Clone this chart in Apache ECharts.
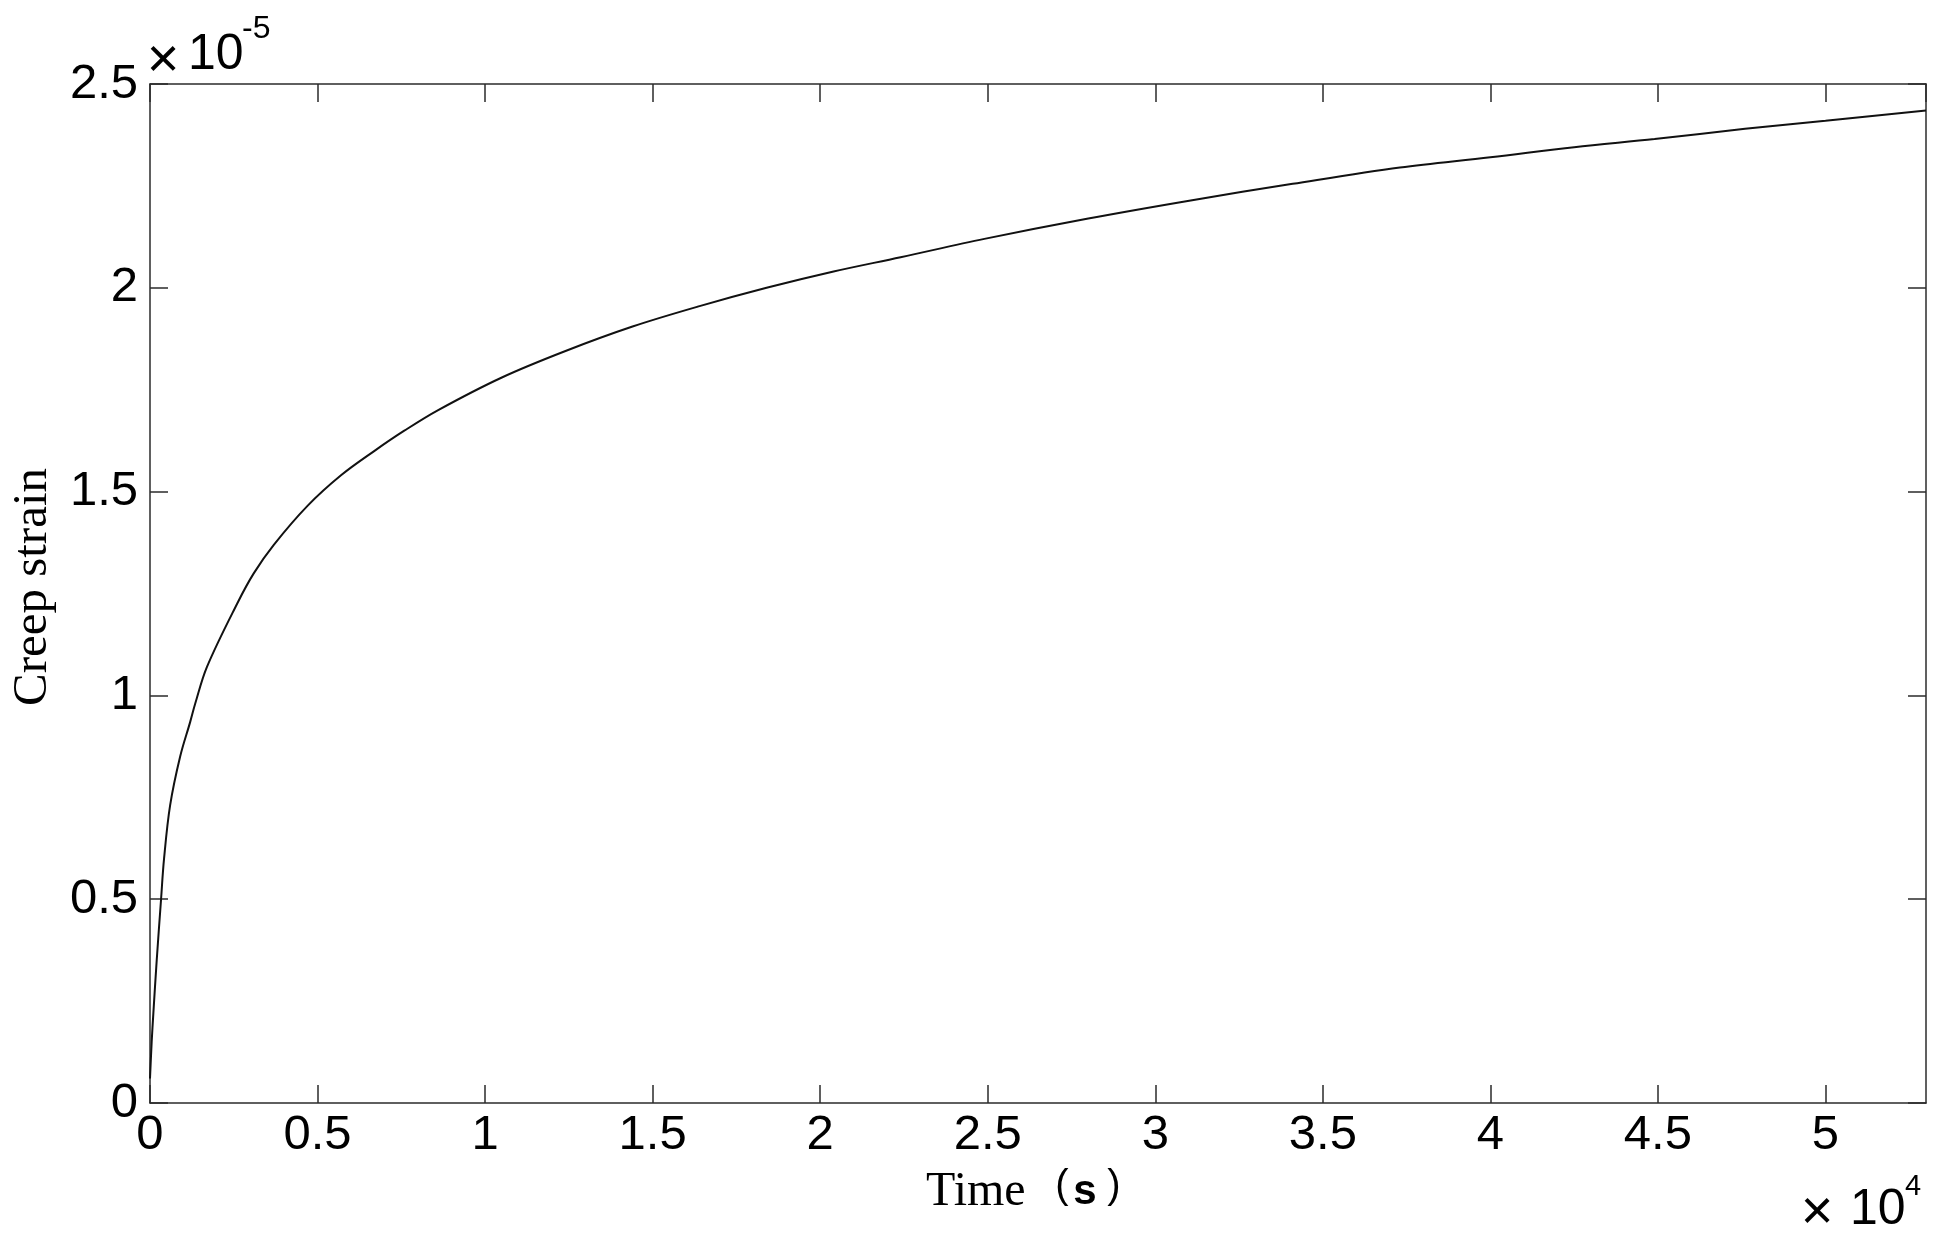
<!DOCTYPE html>
<html>
<head>
<meta charset="utf-8">
<script src="https://cdn.jsdelivr.net/npm/echarts@6/dist/echarts.min.js"></script>
<style>
html,body{margin:0;padding:0;background:#fff;}
#chart{width:1950px;height:1244px;}
</style>
</head>
<body>
<div id="chart"></div>
<script>
// Time in seconds
const timeSec = [0, 50, 100, 200, 330, 420, 600, 900, 1200, 1350, 1700, 2600, 3100, 3700, 4700, 5700, 6700, 7600, 8600, 10500, 12400, 14400, 16400, 18400, 20400, 22400, 24900, 28000, 31100, 34100, 37300, 40000, 42500, 44900, 47600, 50000, 53000];
// Creep strain in units of 1e-5
const creepStrain = [0.06, 0.15, 0.22, 0.35, 0.50, 0.60, 0.73, 0.85, 0.935, 0.98, 1.07, 1.225, 1.30, 1.37, 1.465, 1.54, 1.60, 1.65, 1.70, 1.78, 1.845, 1.905, 1.955, 2.00, 2.04, 2.075, 2.12, 2.17, 2.215, 2.255, 2.295, 2.32, 2.345, 2.365, 2.39, 2.41, 2.435];
const xMin = 0, xMax = 53000, xInterval = 5000, xScale = 1e4;
const yMin = 0, yMax = 2.5, yInterval = 0.5;
const xTitle = 'Time';
const xUnit = 's';
const yTitle = 'Creep strain';

const seriesData = timeSec.map((t, i) => [t, creepStrain[i]]);

const axisColor = '#2b2b2b';
const labelFont = "'Liberation Sans', Arial, sans-serif";
const serifFont = "'Liberation Serif', 'Times New Roman', serif";

function xFmt(v) {
  if (Math.abs(v % xInterval) > 1e-6 || v > 50000) return '';
  return String(+(v / xScale).toFixed(2));
}
function yFmt(v) {
  return String(+v.toFixed(2));
}

function txt(x, y, text, size, opts) {
  return {
    type: 'text', x: x, y: y,
    style: Object.assign({ text: text, fontSize: size, fontFamily: labelFont, fill: '#000', align: 'left', verticalAlign: 'middle' }, opts || {})
  };
}

const chart = echarts.init(document.getElementById('chart'));
chart.setOption({
  animation: false,
  backgroundColor: '#fff',
  grid: { left: 150, right: 24, top: 84, bottom: 141, containLabel: false },
  xAxis: [
    {
      type: 'value', min: xMin, max: xMax, interval: xInterval, position: 'bottom',
      axisLine: { show: true, lineStyle: { color: axisColor, width: 1.5 } },
      axisTick: { show: true, inside: true, length: 18, lineStyle: { color: axisColor, width: 1.5 } },
      axisLabel: { show: true, margin: 8, formatter: xFmt, color: '#000', fontSize: 49, fontFamily: labelFont, showMaxLabel: false },
      splitLine: { show: false }
    },
    {
      type: 'value', min: xMin, max: xMax, interval: xInterval, position: 'top',
      axisLine: { show: true, onZero: false, lineStyle: { color: axisColor, width: 1.5 } },
      axisTick: { show: true, inside: true, length: 18, lineStyle: { color: axisColor, width: 1.5 } },
      axisLabel: { show: false },
      splitLine: { show: false }
    }
  ],
  yAxis: [
    {
      type: 'value', min: yMin, max: yMax, interval: yInterval, position: 'left',
      axisLine: { show: true, lineStyle: { color: axisColor, width: 1.5 } },
      axisTick: { show: true, inside: true, length: 18, lineStyle: { color: axisColor, width: 1.5 } },
      axisLabel: { show: true, margin: 12, formatter: yFmt, color: '#000', fontSize: 49, fontFamily: labelFont },
      splitLine: { show: false }
    },
    {
      type: 'value', min: yMin, max: yMax, interval: yInterval, position: 'right',
      axisLine: { show: true, onZero: false, lineStyle: { color: axisColor, width: 1.5 } },
      axisTick: { show: true, inside: true, length: 18, lineStyle: { color: axisColor, width: 1.5 } },
      axisLabel: { show: false },
      splitLine: { show: false }
    }
  ],
  series: [
    {
      type: 'line', xAxisIndex: 0, yAxisIndex: 0,
      data: seriesData, showSymbol: false, smooth: 0.35,
      lineStyle: { color: '#111', width: 2 }
    }
  ],
  graphic: [
    txt(163, 62, '×', 56, { align: 'center' }),
    txt(188, 55, '10', 50),
    txt(242, 29, '-5', 32),

    txt(1817, 1214, '×', 56, { align: 'center' }),
    txt(1850, 1210, '10', 50),
    txt(1905, 1187, '4', 29),

    {
      type: 'text', x: 33, y: 587, rotation: Math.PI / 2,
      style: { text: yTitle, fontSize: 49, fontFamily: serifFont, fill: '#000', align: 'center', verticalAlign: 'middle' }
    },
    txt(926, 1192, xTitle, 48, { fontFamily: serifFont }),
    txt(1062, 1187, '(', 40, { align: 'center' }),
    txt(1085, 1192, xUnit, 42, { align: 'center', fontWeight: 'bold' }),
    txt(1114, 1187, ')', 40, { align: 'center' })
  ]
});
</script>
</body>
</html>
